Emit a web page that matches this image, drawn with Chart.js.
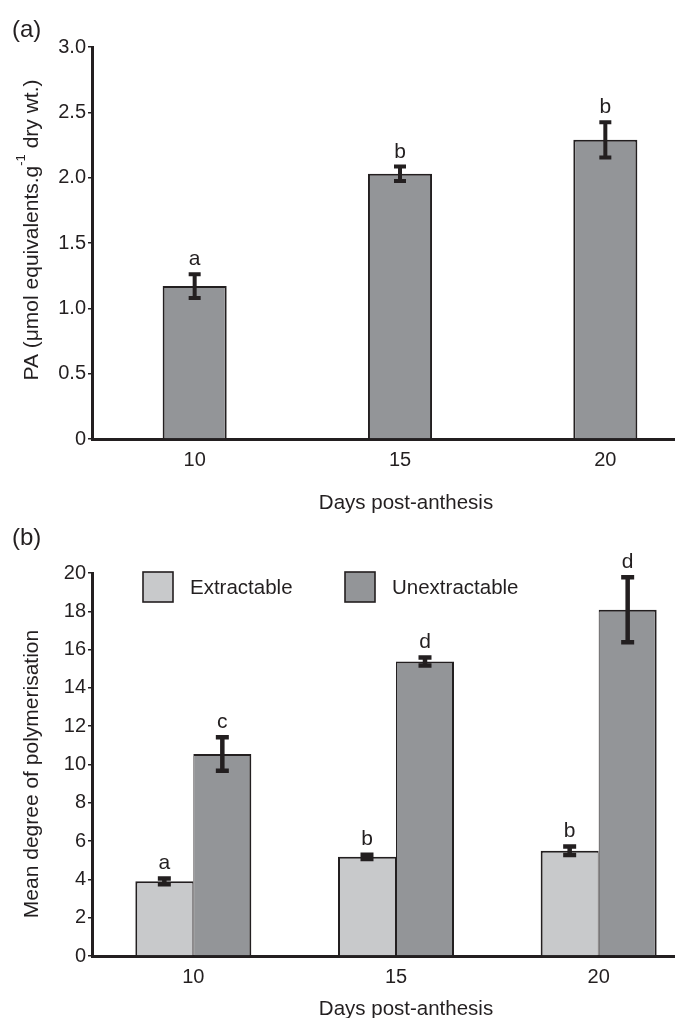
<!DOCTYPE html>
<html><head><meta charset="utf-8">
<script src="https://cdn.jsdelivr.net/npm/chart.js@4.4.0/dist/chart.umd.min.js"></script>
<style>
html,body{margin:0;padding:0;overflow:hidden;background:#fff;width:675px;height:1018px;}
#wrapA{position:absolute;left:0;top:0;width:708px;height:520px;}
#wrapB{position:absolute;left:0;top:505px;width:700px;height:513px;}
canvas{display:block;}
</style></head><body>
<div id="wrapA"><canvas id="chartA" width="708" height="520"></canvas></div>
<div id="wrapB"><canvas id="chartB" width="700" height="513"></canvas></div>
<script>
// ---------- data ----------
const days = ['10', '15', '20'];
const paMean = [1.17, 2.03, 2.29];
const paErr = [0.09, 0.055, 0.135];
const paLetters = ['a', 'b', 'b'];
const seriesNames = ['Extractable', 'Unextractable'];
const extractableMean = [3.9, 5.18, 5.5];
const extractableErr = [0.15, 0.11, 0.22];
const extractableLetters = ['a', 'b', 'b'];
const unextractableMean = [10.55, 15.38, 18.08];
const unextractableErr = [0.87, 0.21, 1.7];
const unextractableLetters = ['c', 'd', 'd'];
const paTickValues = [0, 0.5, 1.0, 1.5, 2.0, 2.5, 3.0];
const dpTickValues = [0, 2, 4, 6, 8, 10, 12, 14, 16, 18, 20];

// ---------- style ----------
const INK = '#231f20';
const DARK = '#939598';
const LIGHT = '#c8c9cb';
const FONT = "'Liberation Sans', Arial, Helvetica, sans-serif";
Chart.defaults.font.family = FONT;
Chart.defaults.font.size = 20;
Chart.defaults.color = INK;

function drawRotatedTitle(ctx, parts, xBase, yCenter, size) {
  ctx.save();
  ctx.translate(xBase, yCenter);
  ctx.rotate(-Math.PI / 2);
  let total = 0;
  parts.forEach(p => {
    ctx.font = (p.sup ? Math.round(size * 0.62) : size) + 'px ' + FONT;
    p.w = ctx.measureText(p.t).width;
    total += p.w;
  });
  let x = -total / 2;
  ctx.textAlign = 'left';
  ctx.textBaseline = 'alphabetic';
  ctx.fillStyle = INK;
  parts.forEach(p => {
    ctx.font = (p.sup ? Math.round(size * 0.62) : size) + 'px ' + FONT;
    ctx.fillText(p.t, x, p.sup ? -size * 0.62 : 0);
    x += p.w;
  });
  ctx.restore();
}

const decor = {
  id: 'decor',
  afterDatasetsDraw(chart, args, o) {
    const ctx = chart.ctx;
    const ys = chart.scales.y;
    ctx.save();
    o.errors.forEach((errs, di) => {
      const meta = chart.getDatasetMeta(di);
      const vals = chart.data.datasets[di].data;
      meta.data.forEach((bar, i) => {
        const hi = ys.getPixelForValue(vals[i] + errs[i]);
        const lo = ys.getPixelForValue(vals[i] - errs[i]);
        ctx.strokeStyle = INK;
        ctx.lineWidth = o.errWidth;
        ctx.lineCap = 'butt';
        ctx.beginPath();
        ctx.moveTo(bar.x, hi - o.errWidth / 2);
        ctx.lineTo(bar.x, lo + o.errWidth / 2);
        ctx.moveTo(bar.x - o.capHalf, hi);
        ctx.lineTo(bar.x + o.capHalf, hi);
        ctx.moveTo(bar.x - o.capHalf, lo);
        ctx.lineTo(bar.x + o.capHalf, lo);
        ctx.stroke();
        ctx.fillStyle = INK;
        ctx.font = '21px ' + FONT;
        ctx.textAlign = 'center';
        ctx.textBaseline = 'alphabetic';
        ctx.fillText(o.letters[di][i], bar.x, hi - o.errWidth / 2 - 7);
      });
    });
    // y title
    drawRotatedTitle(ctx, o.yTitle, 38, o.yTitleCenter, 21);
    // x title
    ctx.fillStyle = INK;
    ctx.font = '20.5px ' + FONT;
    ctx.textAlign = 'center';
    ctx.textBaseline = 'alphabetic';
    ctx.fillText(o.xTitle, 406, o.xTitleBase);
    // panel label
    ctx.font = '24px ' + FONT;
    ctx.textAlign = 'left';
    ctx.fillText(o.panel, 12, o.panelBase);
    // legend
    if (o.legend) {
      o.legend.forEach((lg, k) => {
        const ds = chart.data.datasets[k];
        ctx.fillStyle = ds.backgroundColor;
        ctx.fillRect(lg.x, lg.y, 30, 30);
        ctx.strokeStyle = INK;
        ctx.lineWidth = 1.6;
        ctx.strokeRect(lg.x, lg.y, 30, 30);
        ctx.fillStyle = INK;
        ctx.font = '20.5px ' + FONT;
        ctx.textAlign = 'left';
        ctx.textBaseline = 'middle';
        ctx.fillText(ds.label, lg.tx, lg.y + 16);
      });
    }
    ctx.restore();
  }
};

function yScale(ticks, fmt) {
  return {
    min: ticks[0], max: ticks[ticks.length - 1],
    afterBuildTicks: s => { s.ticks = ticks.map(v => ({ value: v })); },
    afterFit: s => { s.width = 92; },
    ticks: { padding: 2, callback: fmt, font: { size: 20 }, color: INK },
    grid: { display: true, drawOnChartArea: false, drawTicks: true, tickLength: 4, color: INK, lineWidth: 1.5 },
    border: { display: true, color: INK, width: 3 }
  };
}
function xScale(h) {
  return {
    afterFit: s => { s.height = h; },
    ticks: { padding: 9, font: { size: 20 }, color: INK },
    grid: { display: true, drawOnChartArea: false, drawTicks: false, color: INK },
    border: { display: true, color: INK, width: 3 }
  };
}

new Chart(document.getElementById('chartA'), {
  type: 'bar',
  data: {
    labels: days,
    datasets: [{
      label: 'PA', data: paMean, backgroundColor: DARK, borderColor: INK, borderWidth: 2,
      categoryPercentage: 1, barPercentage: 0.312
    }]
  },
  options: {
    responsive: false, animation: false,
    layout: { padding: { top: 47, left: 0, right: 0, bottom: 0 } },
    scales: {
      x: xScale(81),
      y: yScale(paTickValues, v => v === 0 ? '0' : Number(v).toFixed(1))
    },
    plugins: {
      legend: { display: false }, tooltip: { enabled: false },
      decor: {
        errors: [paErr], letters: [paLetters], errWidth: 4, capHalf: 6,
        yTitle: [{ t: 'PA (\u03bcmol equivalents.g' }, { t: '-1', sup: true }, { t: ' dry wt.)' }],
        yTitleCenter: 230, xTitle: 'Days post-anthesis', xTitleBase: 508.5,
        panel: '(a)', panelBase: 37
      }
    }
  },
  plugins: [decor]
});

new Chart(document.getElementById('chartB'), {
  type: 'bar',
  data: {
    labels: days,
    datasets: [{
      label: seriesNames[0], data: extractableMean, backgroundColor: LIGHT, borderColor: INK,
      borderWidth: { top: 2, left: 2, right: 1, bottom: 0 },
      categoryPercentage: 0.5724, barPercentage: 1
    }, {
      label: seriesNames[1], data: unextractableMean, backgroundColor: DARK, borderColor: INK,
      borderWidth: { top: 2, left: 1, right: 2, bottom: 0 },
      categoryPercentage: 0.5724, barPercentage: 1
    }]
  },
  options: {
    responsive: false, animation: false,
    layout: { padding: { top: 68, left: 0, right: 0, bottom: 0 } },
    scales: {
      x: xScale(62),
      y: yScale(dpTickValues, v => String(v))
    },
    plugins: {
      legend: { display: false }, tooltip: { enabled: false },
      decor: {
        errors: [extractableErr, unextractableErr], letters: [extractableLetters, unextractableLetters],
        errWidth: 4.5, capHalf: 6.5,
        yTitle: [{ t: 'Mean degree of polymerisation' }],
        yTitleCenter: 269, xTitle: 'Days post-anthesis', xTitleBase: 509.5,
        panel: '(b)', panelBase: 40,
        legend: [{ x: 143, y: 67, tx: 190 }, { x: 345, y: 67, tx: 392 }]
      }
    }
  },
  plugins: [decor]
});
</script>
</body></html>
